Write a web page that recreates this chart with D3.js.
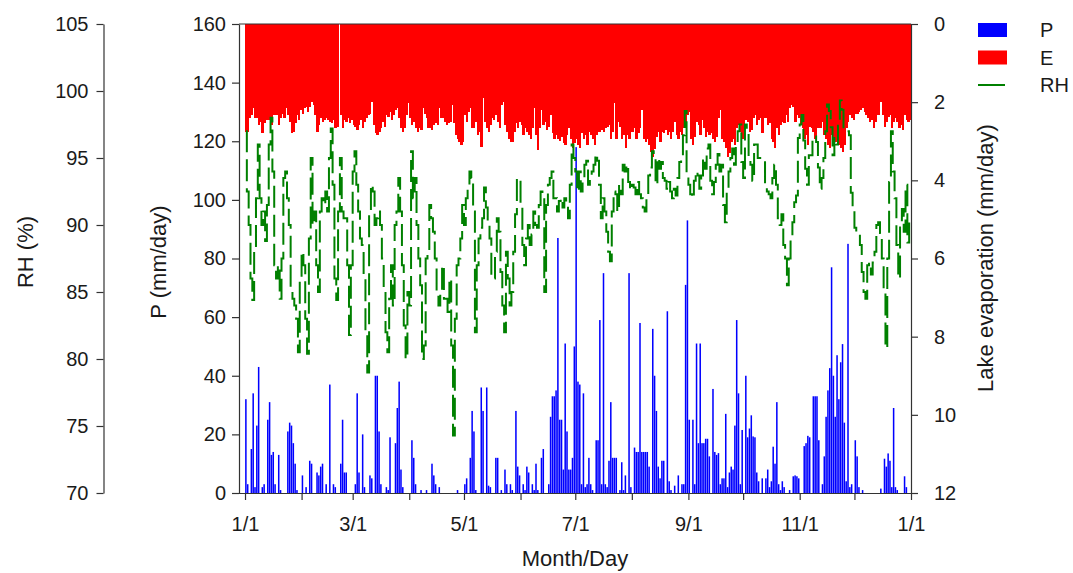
<!DOCTYPE html>
<html><head><meta charset="utf-8">
<script src="https://cdn.jsdelivr.net/npm/d3@7"></script>
<style>
body{margin:0;background:#fff;}
svg text{font-family:"Liberation Sans",Arial,sans-serif;fill:#1a1a1a;}
</style>
</head><body>
<svg id="chart" width="1073" height="573"></svg>
<script>
// ---------- DATA (daily, day 0 = Jan 1) ----------
const monthStarts = [0,31,59,90,120,151,181,212,243,273,304,334,365];
const monthLabels = ["1/1","","3/1","","5/1","","7/1","","9/1","","11/1","","1/1"];
const pTicks = [0,20,40,60,80,100,120,140,160];
const eTicks = [0,2,4,6,8,10,12];
const rhTicks = [70,75,80,85,90,95,100,105];

// Precipitation P (mm/day)
const P_q1 = [32,3,0,15,34,2,23,43,0,2,3,0,25,31,13,14,3,0,13,1,0,0,0,21,24,23,17,10,1,0,0,
  6,0,2,0,11,10,0,0,7,6,9,10,0,3,0,37,0,3,2,0,0,10,25,7,7,0,0,0,
  0,3,34,7,0,20,2,0,0,6,5,0,40,40,21,3,0,0,2,1,19,0,0,17,29,38,8,2,0,0,0];
const P_q2 = [0,18,12,3,0,0,1,0,0,1,0,0,10,6,3,0,2,0,0,0,0,0,0,0,0,0,1,0,0,0,
  3,5,0,12,28,21,1,0,0,36,28,0,36,2.5,2,0,0,12,12,0,1,0,8,3,0,3,1,0,28,9,6,
  0,3,1,9,7,0,3,1,10,1,0,12,15,0,0,3,26,33,33,35,87,25,25,8,51,21,8,8,12,50];
const P_q3 = [118,38,37,3,34,2,3,12,3,1,0,18,18,59,3,75,3,2,11,31,12,12,12,0,1,10.5,1,6,0,75,2,
  0,15.5,14,14,58,14,14,14,14,9,0,56,40,28,9,5,11,11,0,62,4,1,0,2.5,0,6,0,3,3,71,93,
  25,0,25,3,51,17,51,17,17,18.5,18.5,12.5,0,35.5,14,13,13.6,3,5,5,27,2,7,9,8,23,59,34,3,21.5];
const P_q4 = [0,40,19,22,26.5,19.3,19,7,4,0,5,0,5,8,2,4,15.8,10,31,3,1,4,2,0,0,1,0,5.7,6,5.7,5,
  0,0,16,17,19.5,19,0,33,33,33,18,0,3,12.5,26,35,42.6,77,40,26,47,32,44.6,50.8,24,4,85,2,3,0,
  18,12.5,2,0,1,0,0,0,0,0,0,0,0,0,1.5,0,11.7,9,13.5,11,2,29,2,1,0,0,0,5.7,2,0,0];

// Lake evaporation E (mm/day)
const E_q1 = [2.76,2.76,2.41,2.33,2.16,2.41,2.41,2.58,2.5,2.8,
  2.54,2.46,2.46,2.46,2.58,2.33,2.33,2.33,2.58,2.41,
  2.29,2.41,2.16,2.33,2.5,2.8,2.76,2.54,2.33,2.46,
  2.2,2.29,2.16,2.12,2.24,2.12,1.99,2.07,2.33,2.76,
  2.58,2.41,2.5,2.46,2.41,2.46,2.5,2.54,2.46,2.67,
  2.63,0,2.33,2.67,2.46,2.5,2.41,2.54,2.46,2.58,
  2.63,2.71,2.58,2.46,2.67,2.5,2.41,2.33,2.29,1.99,
  2.58,2.8,2.84,2.76,2.67,2.5,2.63,2.33,2.37,2.24,
  2.46,2.33,2.2,2.16,2.41,2.67,2.76,2.67,2.33,2.03];
const E_q2 = [2.41,2.58,2.5,2.67,2.76,2.67,2.71,2.16,2.29,2.41,
  2.67,2.67,2.71,2.58,2.54,2.58,2.16,2.41,2.41,2.5,
  2.58,2.54,2.5,2.07,2.54,2.84,2.93,3.01,3.1,3.01,
  2.33,2.5,2.24,2.16,2.67,2.67,2.5,2.84,2.76,3.14,
  1.9,2.5,2.67,2.76,2.58,2.41,2.46,2.33,2.5,2.67,
  2.07,1.99,2.58,2.76,2.93,3.01,3.01,2.76,2.54,2.67,
  2.5,2.58,2.84,2.67,2.76,2.84,2.93,2.67,2.16,2.84,
  3.22,2.67,2.2,2.58,2.5,2.71,2.63,2.33,2.8,2.93,
  2.84,2.93,3.0,2.9,3.05,3.1,2.84,2.67,2.93,3.18,3.05];
const E_q3 = [2.93,3.1,3.18,2.8,2.93,2.84,3.1,2.76,2.84,2.93,
  3.1,2.84,2.76,2.76,2.71,2.76,2.67,2.63,2.58,2.93,
  2.76,2.03,2.93,2.5,2.63,2.93,2.84,3.18,2.84,2.93,
  2.76,2.76,2.67,2.93,2.8,2.67,2.2,2.93,3.01,2.93,
  3.1,3.27,3.4,3.2,2.88,2.76,3.01,2.76,2.8,2.71,
  2.84,2.76,2.93,2.76,2.5,2.84,2.93,2.76,2.84,2.67,
  2.5,2.33,2.24,2.93,3.1,2.9,2.5,2.58,2.84,2.46,
  2.67,2.9,2.76,2.84,2.8,2.93,3.01,2.9,2.41,2.2,
  2.93,3.01,3.18,3.4,3.3,3.01,2.93,3.1,2.67,2.58,
  2.76,2.93,2.84];
const E_q4 = [2.46,2.5,2.76,2.71,2.41,2.33,2.58,2.46,2.41,2.8,
  2.41,2.41,2.58,2.54,2.93,3.01,3.18,2.67,2.84,2.58,
  2.5,2.54,2.33,2.5,2.16,2.07,2.12,2.5,2.33,2.41,
  2.58,2.67,2.93,2.84,3.1,2.63,2.67,2.76,2.93,2.67,
  2.67,2.67,2.5,2.84,2.93,3.1,3.18,2.84,2.93,3.01,
  2.93,3.1,3.18,3.27,3.1,2.67,2.5,2.33,2.41,2.46,
  2.29,2.29,2.24,2.2,2.16,2.24,2.33,2.41,2.5,2.46,
  2.67,2.5,2.33,2.33,1.99,2.33,2.63,2.5,2.37,2.33,
  2.67,2.5,2.41,2.5,2.67,2.58,2.71,2.33,2.46,2.5,
  2.46];

// Relative humidity RH (%)
const RH_q1 = [97,92.5,90,86,84.4,88,92,96,92,90,
  91,88.8,91.5,96,98,94,87,86,87,84.5,
  87.5,93.5,94,92,90,85,84.5,84,83,80.5,
  86,88,87,83,80.4,89,95,90,91,87,
  85,91,92,91.5,92.5,91,95,97.2,93,86,
  84.4,91,95,91,90.5,90.5,87,81.8,87,94,
  95.5,93,91,89,88.5,86,82,79,91,93,
  92.5,90,90.5,91,90,87.5,85,82,80.5,84.5,
  87,84,90,91,93.5,91,87,82.5,80,85];
const RH_q2 = [84,95.5,92,93.5,90,87.5,85.5,80,81,87.5,
  88,91.5,90.5,89.5,87.5,85,84,85,87,84.5,
  84.5,83.5,86,81,74.3,83,87,87.5,89,91.5,
  90,92,93,94,93.5,91,82,87,89,89.8,
  90.5,92.8,91.3,90.2,89,86,86,88,90.5,89.5,
  86.5,84,82,88,86,84,85,88,90.8,93.5,
  93.5,91.3,88.5,87,89,90,88.5,89.3,91,90,
  89.8,91.5,92.5,92.3,85,91.5,93,93.5,94,92,
  92,91,91.8,92,91.3,92,91.5,90.5,93,96,
  95];
const RH_q3 = [94,92.5,94,92.5,93.5,94.5,94.8,93,93.5,94,
  94.5,95.3,94.8,93,90.5,92,91,89.5,88,87.3,
  91,92.5,92.3,91,93,92.3,94.5,94,94.5,93.2,
  92.6,93,92.8,92.3,93.2,92.3,92,91.3,91,92,
  93.7,94.3,95.5,95,93,95,94.2,94.7,93.5,93.3,
  92.7,93.2,92.5,92,92.7,92.2,93.5,94.7,95,96.7,
  98.5,93.7,93,92.3,92,93.3,94,93.7,92.7,93.7,
  95,94.2,95.7,96,93.3,92.3,93.2,94.5,95.3,94,
  94.5,91.5,90.2,92.5,94,95,95.7,94.5,96,97,
  97.5,94.7,93.5];
const RH_q4 = [97.5,97,95,94.5,93.3,96,96,95,95,94.8,
  94.8,93,92.5,92.3,92,93.5,94.5,93,90.5,90,
  90.8,88.5,87.5,85.5,87.5,89,90.2,91.7,92.2,96.5,
  97.5,98.2,96.3,94.2,93,95.2,95.2,96.3,96.6,96.2,
  94.3,92.7,93.5,95,97,99,98.5,97.3,95.2,96.5,
  96,97.4,99.3,98.6,97.2,97,97,96.7,92.4,91.3,
  89.8,89.5,89.3,88.5,86.5,85,84.5,87,87.2,86.3,
  87.2,88,90,90.2,89.4,87.5,85,80.8,87.5,93.2,
  97,94,92,88.5,86,90.2,91.2,89.5,93,88.7,
  90.2];

const P = [...P_q1,...P_q2,...P_q3,...P_q4];
const E = [...E_q1,...E_q2,...E_q3,...E_q4];
const RH = [...RH_q1,...RH_q2,...RH_q3,...RH_q4];

// ---------- LAYOUT ----------
const plot = {left:239, right:911, top:24, bottom:493};
const svg = d3.select("#chart");
const x = d3.scaleLinear().domain([-3.3,365]).range([plot.left,plot.right]);
const yP = d3.scaleLinear().domain([0,160]).range([plot.bottom,plot.top]);
const yE = d3.scaleLinear().domain([0,12]).range([plot.top,plot.bottom]);
const yRH = d3.scaleLinear().domain([70,105]).range([plot.bottom,plot.top]);
const step = x(1)-x(0);

svg.append("clipPath").attr("id","clip").append("rect")
  .attr("x",plot.left).attr("y",plot.top)
  .attr("width",plot.right-plot.left).attr("height",plot.bottom-plot.top);
const g = svg.append("g").attr("clip-path","url(#clip)");

// P bars
g.append("g").selectAll("rect").data(P).join("rect")
  .attr("x",(d,i)=>x(i)+0.1).attr("width",step-0.3)
  .attr("y",d=>yP(d)).attr("height",d=>yP(0)-yP(d))
  .attr("fill","#0000ff");

// E bars (hanging from the top)
g.append("g").attr("shape-rendering","crispEdges").selectAll("rect").data(E).join("rect")
  .attr("x",(d,i)=>x(i)).attr("width",step+0.5)
  .attr("y",yE(0)).attr("height",d=>yE(d)-yE(0))
  .attr("fill","#ff0000");

// RH line (stepped, dashed)
const line = d3.line().curve(d3.curveStep).x((d,i)=>x(i+0.5)).y(d=>yRH(d));
g.append("path").datum(RH).attr("d",line)
  .attr("fill","none").attr("stroke","#008000").attr("stroke-width",2)
  .attr("stroke-dasharray","22,7");

// ---------- AXES ----------
const axisColor = "#333";
const tickFont = "20px";
function style(sel){
  sel.selectAll("path,line").attr("stroke",axisColor).attr("stroke-width",1.2);
  sel.selectAll("text").attr("font-size",tickFont).attr("fill","#1a1a1a")
    .style("font-family","'Liberation Sans',Arial,sans-serif");
}
svg.append("line").attr("x1",plot.left).attr("x2",plot.right)
  .attr("y1",plot.top).attr("y2",plot.top).attr("stroke",axisColor).attr("stroke-width",1.2);

const axRH = svg.append("g").attr("transform","translate(103.5,0)")
  .call(d3.axisLeft(yRH).tickValues(rhTicks).tickSize(7).tickSizeOuter(0).tickPadding(8));
style(axRH);

const axP = svg.append("g").attr("transform",`translate(${plot.left},0)`)
  .call(d3.axisLeft(yP).tickValues(pTicks).tickSize(7).tickSizeOuter(0).tickPadding(6));
style(axP);

const axE = svg.append("g").attr("transform",`translate(${plot.right},0)`)
  .call(d3.axisRight(yE).tickValues(eTicks).tickSize(7).tickSizeOuter(0).tickPadding(16));
style(axE);

const axX = svg.append("g").attr("transform",`translate(0,${plot.bottom})`)
  .call(d3.axisBottom(x).tickValues(monthStarts).tickSize(7).tickSizeOuter(0).tickPadding(17)
    .tickFormat((d,i)=>monthLabels[i]));
style(axX);
axX.select(".domain").attr("d",`M${plot.left},0.5H${plot.right}`);

// titles
const titleFont = "22px";
svg.append("text").attr("transform","translate(33,252) rotate(-90)")
  .attr("text-anchor","middle").attr("font-size",titleFont).text("RH (%)");
svg.append("text").attr("transform","translate(166,262) rotate(-90)")
  .attr("text-anchor","middle").attr("font-size",titleFont).text("P (mm/day)");
svg.append("text").attr("transform","translate(993,258) rotate(-90)")
  .attr("text-anchor","middle").attr("font-size",titleFont).text("Lake evaporation (mm/day)");
svg.append("text").attr("x",575).attr("y",566)
  .attr("text-anchor","middle").attr("font-size",titleFont).text("Month/Day");

// legend
const legend = [
  {label:"P", color:"#0000ff", type:"rect", y:30},
  {label:"E", color:"#ff0000", type:"rect", y:57.5},
  {label:"RH", color:"#008000", type:"line", y:85}
];
const lg = svg.append("g");
legend.forEach(l=>{
  if(l.type==="rect"){
    lg.append("rect").attr("x",978).attr("y",l.y-7).attr("width",29).attr("height",14).attr("fill",l.color);
  } else {
    lg.append("line").attr("x1",978).attr("x2",1005).attr("y1",l.y).attr("y2",l.y)
      .attr("stroke",l.color).attr("stroke-width",2);
  }
  lg.append("text").attr("x",1040).attr("y",l.y).attr("dy","0.36em")
    .attr("font-size","20px").text(l.label);
});
</script>
</body></html>
